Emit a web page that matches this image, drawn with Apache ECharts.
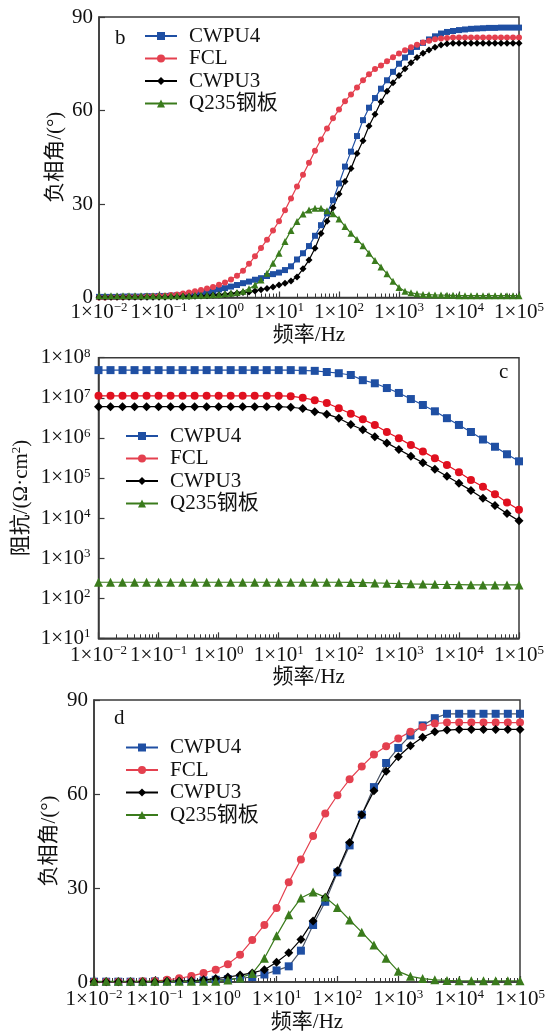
<!DOCTYPE html>
<html>
<head>
<meta charset="utf-8">
<script src="https://cdn.jsdelivr.net/npm/echarts@6/dist/echarts.min.js"></script>
<style>
html, body { margin: 0; padding: 0; background: #fff; }
#chart { width: 554px; height: 1034px; }
</style>
</head>
<body>
<div id="chart"></div>
<script>
// frequency grids (Hz)
const FREQ_B = [
  0.01, 0.01259, 0.01585, 0.01995, 0.02512, 0.03162, 0.03981, 0.05012, 0.0631, 0.07943,
  0.1, 0.1259, 0.1585, 0.1995, 0.2512, 0.3162, 0.3981, 0.5012, 0.631, 0.7943,
  1, 1.259, 1.585, 1.995, 2.512, 3.162, 3.981, 5.012, 6.31, 7.943,
  10, 12.59, 15.85, 19.95, 25.12, 31.62, 39.81, 50.12, 63.1, 79.43,
  100, 125.9, 158.5, 199.5, 251.2, 316.2, 398.1, 501.2, 631, 794.3,
  1000, 1259, 1585, 1995, 2512, 3162, 3981, 5012, 6310, 7943,
  10000, 12590, 15850, 19950, 25120, 31620, 39810, 50120, 63100, 79430,
  100000
];
const FREQ_CD = [
  0.01, 0.01585, 0.02512, 0.03981, 0.0631,
  0.1, 0.1585, 0.2512, 0.3981, 0.631,
  1, 1.585, 2.512, 3.981, 6.31,
  10, 15.85, 25.12, 39.81, 63.1,
  100, 158.5, 251.2, 398.1, 631,
  1000, 1585, 2512, 3981, 6310,
  10000, 15850, 25120, 39810, 63100,
  100000
];

const NAMES = ['CWPU4', 'FCL', 'CWPU3', 'Q235钢板'];

// panel b: negative phase angle (deg)
const B_CWPU4 = [
  0.2, 0.2, 0.2, 0.2, 0.3, 0.3, 0.3, 0.3, 0.4, 0.4,
  0.5, 0.5, 0.6, 0.7, 0.8, 1.0, 1.2, 1.5, 1.7, 2.0,
  2.6, 3.0, 3.5, 4.0, 4.6, 5.1, 5.7, 6.2, 6.9, 7.5,
  8.0, 8.8, 10.0, 12.2, 14.2, 16.5, 19.8, 23.2, 27.0, 31.2,
  36.6, 42.0, 46.8, 51.8, 56.9, 60.9, 64.0, 67.0, 69.7, 72.4,
  75.0, 77.0, 78.8, 80.4, 81.7, 82.8, 83.8, 84.7, 85.2, 85.5,
  85.8, 86.0, 86.2, 86.3, 86.4, 86.5, 86.5, 86.6, 86.6, 86.6,
  86.6
];
const B_FCL = [
  0.0, 0.0, 0.1, 0.1, 0.1, 0.2, 0.2, 0.2, 0.3, 0.4,
  0.5, 0.6, 0.8, 1.0, 1.3, 1.6, 2.0, 2.4, 2.9, 3.4,
  4.1, 4.8, 5.8, 7.0, 8.6, 10.8, 13.2, 15.9, 18.5, 21.5,
  24.5, 28.0, 31.8, 35.6, 39.4, 43.2, 47.1, 50.7, 54.2, 57.5,
  60.3, 63.0, 65.1, 67.4, 69.7, 71.6, 73.3, 74.4, 75.8, 77.1,
  78.3, 79.3, 80.3, 81.1, 81.8, 82.4, 82.9, 83.1, 83.3, 83.4,
  83.4, 83.4, 83.4, 83.4, 83.4, 83.4, 83.4, 83.4, 83.4, 83.4,
  83.4
];
const B_CWPU3 = [
  0.1, 0.1, 0.1, 0.1, 0.1, 0.1, 0.1, 0.1, 0.1, 0.1,
  0.1, 0.1, 0.2, 0.2, 0.3, 0.3, 0.4, 0.5, 0.6, 0.7,
  0.8, 1.0, 1.2, 1.4, 1.6, 1.8, 2.1, 2.5, 2.9, 3.4,
  4.0, 4.6, 5.3, 6.6, 9.2, 12.0, 15.8, 20.5, 24.5, 28.8,
  33.2, 37.2, 41.4, 46.2, 50.3, 55.0, 58.8, 62.8, 66.2, 68.9,
  71.2, 73.4, 75.3, 77.0, 78.4, 79.4, 80.3, 81.0, 81.4, 81.6,
  81.6, 81.6, 81.6, 81.6, 81.6, 81.6, 81.6, 81.6, 81.6, 81.6,
  81.6
];
const B_Q235 = [
  0.6, 0.6, 0.6, 0.6, 0.6, 0.6, 0.6, 0.6, 0.6, 0.6,
  0.6, 0.6, 0.6, 0.6, 0.6, 0.6, 0.7, 0.7, 0.8, 0.9,
  1.0, 1.2, 1.4, 1.6, 2.0, 2.8, 4.0, 5.6, 7.8, 11.0,
  14.2, 18.0, 21.5, 24.4, 26.8, 28.1, 28.6, 28.6, 27.8, 26.9,
  25.2, 22.8, 20.6, 18.6, 16.6, 14.2, 11.9, 9.8, 7.6, 5.2,
  3.2, 2.0, 1.5, 1.2, 1.0, 0.9, 0.8, 0.8, 0.7, 0.7,
  0.6, 0.6, 0.6, 0.6, 0.6, 0.6, 0.6, 0.6, 0.6, 0.6,
  0.6
];

// panel c: impedance modulus (ohm cm2)
const C_CWPU4 = [
  4.9e7, 4.9e7, 4.9e7, 4.9e7, 4.9e7, 4.9e7, 4.9e7, 4.9e7, 4.9e7, 4.9e7,
  4.9e7, 4.9e7, 4.9e7, 4.9e7, 4.9e7, 4.9e7, 4.9e7, 4.8e7, 4.7e7, 4.4e7,
  4.1e7, 3.7e7, 2.75e7, 2.3e7, 1.75e7, 1.32e7, 9.3e6, 6.6e6, 4.6e6, 3.1e6,
  2.1e6, 1.4e6, 9.1e5, 6.0e5, 3.9e5, 2.6e5
];
const C_FCL = [
  1.12e7, 1.12e7, 1.12e7, 1.12e7, 1.12e7, 1.12e7, 1.12e7, 1.12e7, 1.12e7, 1.12e7,
  1.12e7, 1.12e7, 1.12e7, 1.12e7, 1.12e7, 1.12e7, 1.1e7, 1.0e7, 8.7e6, 7.4e6,
  5.5e6, 4.0e6, 2.9e6, 2.1e6, 1.4e6, 9.8e5, 6.6e5, 4.6e5, 3.1e5, 2.1e5,
  1.38e5, 8.9e4, 6.0e4, 3.9e4, 2.45e4, 1.6e4
];
const C_CWPU3 = [
  6.0e6, 6.0e6, 6.0e6, 6.0e6, 6.0e6, 6.0e6, 6.0e6, 6.0e6, 6.0e6, 6.0e6,
  6.0e6, 6.0e6, 6.0e6, 6.0e6, 6.0e6, 6.0e6, 5.8e6, 5.4e6, 4.5e6, 3.9e6,
  3.1e6, 2.15e6, 1.6e6, 1.07e6, 7.5e5, 5.1e5, 3.5e5, 2.4e5, 1.65e5, 1.1e5,
  7.4e4, 4.9e4, 3.1e4, 2.05e4, 1.3e4, 8.5e3
];
const C_Q235 = [
  250, 250, 250, 250, 250, 250, 250, 250, 250, 250,
  250, 250, 250, 250, 250, 250, 250, 250, 250, 250,
  250, 248, 245, 240, 236, 232, 228, 225, 222, 220,
  218, 216, 215, 214, 214, 214
];

// panel d: negative phase angle (deg)
const D_CWPU4 = [
  0.1, 0.1, 0.1, 0.1, 0.1, 0.2, 0.2, 0.3, 0.4, 0.5,
  0.7, 0.9, 1.2, 1.6, 2.4, 3.7, 5.0, 10.0, 18.2, 25.6,
  35.0, 43.6, 53.4, 62.2, 69.9, 74.7, 78.7, 81.9, 84.2, 85.6,
  85.6, 85.6, 85.6, 85.6, 85.6, 85.6
];
const D_FCL = [
  0.1, 0.1, 0.1, 0.1, 0.2, 0.3, 0.7, 1.2, 1.9, 2.9,
  3.9, 5.7, 8.7, 13.4, 18.2, 23.6, 31.8, 39.1, 46.6, 53.8,
  59.6, 64.7, 68.8, 72.6, 75.2, 77.7, 79.9, 81.4, 82.5, 82.8,
  82.8, 82.8, 82.8, 82.8, 82.8, 82.8
];
const D_CWPU3 = [
  0.1, 0.1, 0.1, 0.1, 0.1, 0.1, 0.2, 0.3, 0.4, 0.7,
  1.1, 1.6, 2.2, 2.9, 3.9, 6.3, 9.3, 13.6, 19.5, 27.0,
  35.5, 44.5, 53.4, 61.0, 67.3, 71.9, 75.4, 78.1, 79.9, 80.4,
  80.6, 80.6, 80.6, 80.6, 80.6, 80.6
];
const D_Q235 = [
  0.2, 0.2, 0.2, 0.2, 0.2, 0.2, 0.2, 0.2, 0.2, 0.2,
  0.2, 0.6, 1.3, 2.7, 7.6, 14.8, 21.5, 26.8, 28.7, 27.1,
  23.8, 19.8, 15.9, 11.8, 7.6, 3.4, 1.8, 1.1, 0.7, 0.5,
  0.4, 0.4, 0.4, 0.4, 0.4, 0.4
];

// tick values
const X_MAJOR = [0.01, 0.1, 1, 10, 100, 1000, 10000, 100000];
const X_MINOR = [];
X_MAJOR.slice(0, -1).forEach(d => { for (let m = 2; m <= 9; m++) X_MINOR.push(d * m); });
const IMP_TICKS = [10, 100, 1000, 10000, 100000, 1e6, 1e7, 1e8];

const FONT = '"Liberation Serif", "Noto Sans CJK SC", serif';
const FS = 21;
const TXT = '#111';
const AX = '#3a3a3a';

const COLORS_B = ['#1f4fa3', '#e4404f', '#000000', '#3a7b1c'];
const COLORS_C = ['#1f4fa3', '#e0101f', '#000000', '#3a7b1c'];
// in panel d the CWPU4 connecting line is drawn dark grey
const LINES_D = ['#4b5566', '#e4404f', '#000000', '#3a7b1c'];
const SYMBOLS = ['rect', 'circle', 'diamond', 'triangle'];

const supRich = { sup: { fontSize: 13, verticalAlign: 'top', fontFamily: FONT, color: TXT } };
function sci(v) {
  const e = Math.round(Math.log10(v));
  return '1×10{sup|' + (e < 0 ? '−' + (-e) : e) + '}';
}

const GRIDS = [
  { left: 99, right: 35, top: 17, height: 280.5 },
  { left: 98.5, right: 35, top: 357.7, height: 280.6 },
  { left: 94, right: 34, top: 700, height: 282.3 }
];

function xAxesFor(g, labelMargin, nameGap) {
  return [{
    type: 'log', logBase: 10, gridIndex: g, min: 0.01, max: 100000, position: 'bottom',
    name: '频率/Hz', nameLocation: 'middle', nameGap: nameGap, nameMoveOverlap: false,
    nameTextStyle: { fontFamily: FONT, fontSize: FS, color: TXT },
    axisLine: { show: true, lineStyle: { color: AX, width: 1.5 } },
    axisTick: { show: true, inside: true, length: 6, customValues: X_MAJOR, lineStyle: { color: AX, width: 1.2 } },
    axisLabel: {
      customValues: X_MAJOR, formatter: sci, margin: labelMargin,
      showMinLabel: true, showMaxLabel: true, hideOverlap: false,
      fontFamily: FONT, fontSize: FS, color: TXT, lineHeight: 22, rich: supRich
    },
    splitLine: { show: false }
  }, {
    type: 'log', logBase: 10, gridIndex: g, min: 0.01, max: 100000, position: 'bottom',
    axisLine: { show: false },
    axisTick: { show: true, inside: true, length: 4, customValues: X_MINOR, lineStyle: { color: AX, width: 1 } },
    axisLabel: { show: false },
    splitLine: { show: false }
  }];
}

function phaseAxis(g, nameGap) {
  return {
    type: 'value', gridIndex: g, min: 0, max: 90, interval: 30,
    name: '负相角/(°)', nameLocation: 'middle', nameGap: nameGap, nameRotate: 90, nameMoveOverlap: false,
    nameTextStyle: { fontFamily: FONT, fontSize: FS, color: TXT },
    axisLine: { show: true, lineStyle: { color: AX, width: 1.5 } },
    axisTick: { show: true, inside: true, length: 6, lineStyle: { color: AX, width: 1.2 } },
    axisLabel: { fontFamily: FONT, fontSize: FS, color: TXT, margin: 6 },
    splitLine: { show: false }
  };
}

function makeSeries(g, freq, lists, colors, sizes, lineColors) {
  return lists.map((vals, k) => ({
    name: NAMES[k], type: 'line', xAxisIndex: g * 2, yAxisIndex: g,
    data: freq.map((f, i) => [f, vals[i]]),
    symbol: SYMBOLS[k], symbolSize: sizes[k], showAllSymbol: true,
    itemStyle: { color: colors[k] },
    lineStyle: { color: (lineColors || colors)[k], width: 1.2 },
    emphasis: { disabled: true },
    animation: false
  }));
}

function legendAt(left, top) {
  return {
    data: NAMES, orient: 'vertical', left: left, top: top,
    itemWidth: 32, itemHeight: 10, itemGap: 1.5,
    textStyle: { fontFamily: FONT, fontSize: FS, color: TXT, padding: [0, 0, 0, 7] }
  };
}

const chart = echarts.init(document.getElementById('chart'));
chart.setOption({
  backgroundColor: '#fff',
  animation: false,
  grid: GRIDS.map(g => Object.assign({ show: true, borderColor: AX, borderWidth: 1.5, containLabel: false }, g)),
  xAxis: [].concat(xAxesFor(0, 4, 27), xAxesFor(1, 6, 29), xAxesFor(2, 6, 30)),
  yAxis: [
    phaseAxis(0, 33),
    {
      type: 'log', logBase: 10, gridIndex: 1, min: 10, max: 1e8,
      name: '阻抗/(Ω·cm{sup|2})', nameLocation: 'middle', nameGap: 66, nameRotate: 90, nameMoveOverlap: false,
      nameTextStyle: { fontFamily: FONT, fontSize: FS, color: TXT, lineHeight: 22, rich: supRich },
      axisLine: { show: true, lineStyle: { color: AX, width: 1.5 } },
      axisTick: { show: true, inside: true, length: 6, customValues: IMP_TICKS, lineStyle: { color: AX, width: 1.2 } },
      axisLabel: { customValues: IMP_TICKS, formatter: sci, fontFamily: FONT, fontSize: FS, color: TXT, lineHeight: 22, rich: supRich, margin: 8 },
      splitLine: { show: false }
    },
    phaseAxis(2, 34)
  ],
  legend: [legendAt(139, 20.5), legendAt(120, 420.5), legendAt(120, 732)],
  graphic: [
    { type: 'text', left: 115, top: 28, style: { text: 'b', font: FS + 'px ' + FONT, fill: TXT } },
    { type: 'text', left: 499, top: 362, style: { text: 'c', font: FS + 'px ' + FONT, fill: TXT } },
    { type: 'text', left: 114, top: 708, style: { text: 'd', font: FS + 'px ' + FONT, fill: TXT } }
  ],
  series: [].concat(
    makeSeries(0, FREQ_B, [B_CWPU4, B_FCL, B_CWPU3, B_Q235], COLORS_B, [6, 6, 7, 7]),
    makeSeries(1, FREQ_CD, [C_CWPU4, C_FCL, C_CWPU3, C_Q235], COLORS_C, [8, 8, 9, 9]),
    makeSeries(2, FREQ_CD, [D_CWPU4, D_FCL, D_CWPU3, D_Q235], COLORS_B, [8, 8, 9, 9], LINES_D)
  )
});
</script>
</body>
</html>
